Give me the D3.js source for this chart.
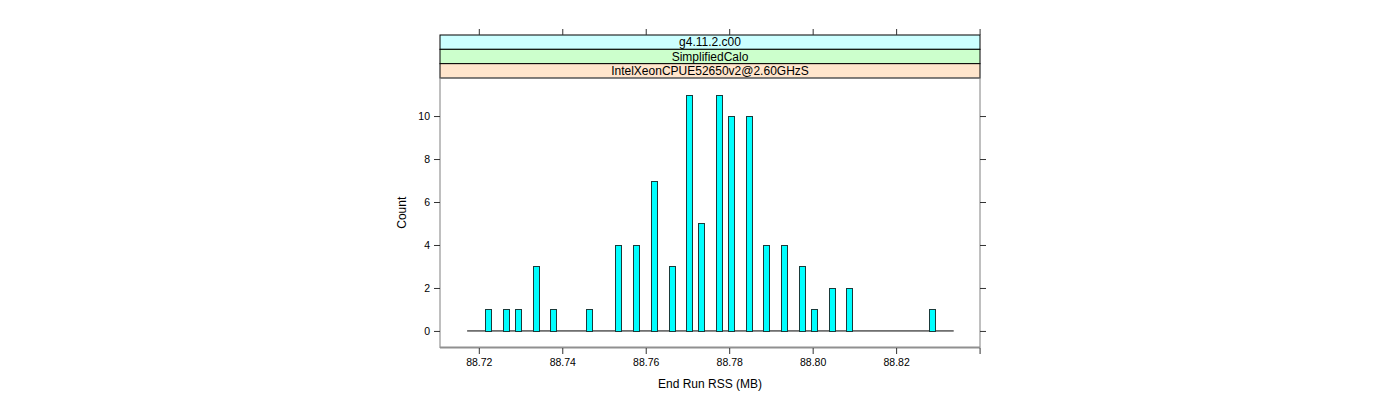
<!DOCTYPE html>
<html><head><meta charset="utf-8">
<script src="https://cdn.jsdelivr.net/npm/d3@7"></script>
<style>body{margin:0;background:#fff;} text{font-family:"Liberation Sans",Arial,sans-serif;}</style>
</head><body>
<svg id="c" width="1400" height="400"></svg>
<script>
const rssValues = [88.72228,88.72654,88.72941,88.73365,88.73789,88.74642,88.75346,88.75768,88.76199,88.76623,88.77047,88.77329,88.77763,88.78043,88.78467,88.78891,88.79322,88.79744,88.80024,88.80455,88.80879,88.82857];
const counts    = [1,1,1,3,1,1,4,4,7,3,11,5,11,10,10,4,4,3,1,2,2,1];
const baselineRange = [88.7172, 88.8338];
const xTicks = [88.72,88.74,88.76,88.78,88.80,88.82,88.84];
const xTickLabels = ["88.72","88.74","88.76","88.78","88.80","88.82",""];
const yTicks = [0,2,4,6,8,10];
const strips = ["g4.11.2.c00","SimplifiedCalo","IntelXeonCPUE52650v2@2.60GHzS"];
const stripColors = ["#CCFFFF","#CCFFCC","#FFE5CC"];

const svg = d3.select("#c");
const L=440, R=980, T=78, B=347.5, stripTop=35, stripH=14.33;
const x = d3.scaleLinear().domain([88.7107,88.8401]).range([L,R]);
const y = d3.scaleLinear().domain([-0.77,11.77]).range([B,T]);

// strips
strips.forEach((s,i)=>{
  const yy = stripTop + i*stripH;
  svg.append("rect").attr("x",L).attr("y",yy).attr("width",R-L).attr("height",stripH)
    .attr("fill",stripColors[i]).attr("stroke","#000").attr("stroke-width",1);
  svg.append("text").attr("x",(L+R)/2).attr("y",yy+stripH/2+4.3).attr("text-anchor","middle")
    .attr("font-size",12).text(s);
});

// baseline
svg.append("line").attr("x1",x(baselineRange[0])).attr("x2",x(baselineRange[1]))
  .attr("y1",y(0)).attr("y2",y(0)).attr("stroke","#000").attr("stroke-width",1);

// bars
const bw=6;
svg.selectAll("rect.bar").data(rssValues).enter().append("rect").attr("class","bar")
  .attr("x",d=>Math.round(x(d)-bw/2)+0.5).attr("width",bw)
  .attr("y",(d,i)=>Math.round(y(counts[i]))+0.5).attr("height",(d,i)=>Math.round(y(0))-Math.round(y(counts[i])))
  .attr("fill","#00FFFF").attr("stroke","#1a3a3a").attr("stroke-width",1);

// panel border
svg.append("rect").attr("x",L).attr("y",T).attr("width",R-L).attr("height",B-T)
  .attr("fill","none").attr("stroke","#808080").attr("stroke-width",1);
svg.append("line").attr("x1",L).attr("x2",R).attr("y1",B).attr("y2",B).attr("stroke","#909090").attr("stroke-width",2);

// axes
const axB = d3.axisBottom(x).tickValues(xTicks).tickSize(6).tickPadding(5).tickFormat((d,i)=>xTickLabels[i]);
const gB = svg.append("g").attr("transform",`translate(0,${B+0.5})`).call(axB);
const axT = d3.axisTop(x).tickValues(xTicks).tickSize(6).tickFormat("");
const gT = svg.append("g").attr("transform",`translate(0,${stripTop})`).call(axT);
const axL = d3.axisLeft(y).tickValues(yTicks).tickSize(6).tickPadding(4);
const gL = svg.append("g").attr("transform",`translate(${L},0)`).call(axL);
const axR = d3.axisRight(y).tickValues(yTicks).tickSize(6).tickFormat("");
const gR = svg.append("g").attr("transform",`translate(${R},0)`).call(axR);
[gB,gT,gL,gR].forEach(g=>{
  g.select(".domain").remove();
  g.selectAll(".tick line").attr("stroke","#333");
  g.selectAll("text").attr("font-size",10.5).attr("fill","#000").attr("font-family","Liberation Sans, Arial, sans-serif");
});

// axis titles
svg.append("text").attr("x",(L+R)/2).attr("y",388).attr("text-anchor","middle").attr("font-size",12).text("End Run RSS (MB)");
svg.append("text").attr("transform",`translate(406,${(T+B)/2}) rotate(-90)`).attr("text-anchor","middle").attr("font-size",12).text("Count");
</script>
</body></html>
